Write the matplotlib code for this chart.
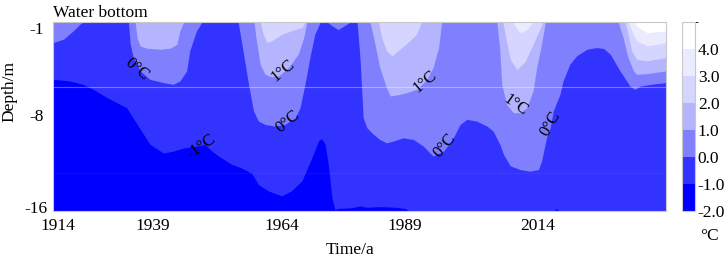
import matplotlib
matplotlib.use("Agg")
import matplotlib.pyplot as plt
from matplotlib.colors import ListedColormap, BoundaryNorm
from matplotlib.cm import ScalarMappable

plt.rcParams['font.family'] = ['Liberation Serif', 'DejaVu Serif']
plt.rcParams['font.size'] = 12.5

# temperature levels and band colours (coldest first)
levels = [-2, -1, 0, 1, 2, 3, 4, 5]
band_colors = ['#0000ff', '#3333ff', '#8080ff', '#b4b4ff', '#d5d5ff', '#ebebff', '#ffffff']
cbar_ticks = [-2, -1, 0, 1, 2, 3, 4]
cbar_labels = ['-2.0', '-1.0', '0.0', '1.0', '2.0', '3.0', '4.0']

# time axis (position along record, 0-100) and its labels
time_pos = [0.8, 16.2, 37.4, 57.4, 79.0]
time_labels = ['1914', '1939', '1964', '1989', '2014']
depth_pos = [-1.44, -8.36, -15.68]
depth_labels = ['-1', '-8', '-16']

# isotherm depths (m) read along the record
iso_m1_x = [0, 2.8, 4.9, 6.6, 8.8, 10.4, 12.0, 13.7, 15.8, 18.0, 19.6, 21.3, 23.4, 24.8, 25.9,
            27.5, 29.2, 30.8, 32.4, 33.5, 35.1, 37.3, 38.9, 40.6, 42.2, 43.3, 43.8, 44.4, 44.9,
            45.5, 46.0, 46.5, 48.5, 50.1, 51.2, 53.3, 55.8, 57.4, 58.2, 81.6, 82.2, 82.5, 100]
iso_m1_d = [-5.55, -5.68, -5.95, -6.35, -7.0, -7.4, -7.8, -9.1, -10.7, -11.4, -11.25, -11.0,
            -10.85, -10.72, -11.25, -11.8, -12.3, -12.6, -13.0, -13.9, -14.4, -14.8, -14.4,
            -13.6, -11.8, -10.45, -10.25, -10.7, -12.3, -14.95, -15.9, -15.8, -15.75, -15.6,
            -15.7, -15.65, -15.7, -15.8, -16, -16, -15.8, -16, -16]

iso_0_x = [0, 1.7, 3.3, 4.4, 4.9, 12.3, 12.6, 13.1, 14.2, 15.8, 18.0, 19.6, 20.7, 21.8, 22.3,
           23.4, 24.3, 30.2, 31.0, 31.9, 32.7, 33.5, 34.6, 36.2, 37.8, 39.5, 40.3, 41.1, 41.9,
           42.7, 43.6, 44.7, 45.7, 46.5, 47.3, 48.5, 49.6, 50.1, 50.6, 51.2, 52.3, 53.3, 54.4,
           55.5, 57.1, 58.8, 60.4, 62.0, 63.7, 65.3, 66.4, 67.5, 69.1, 70.8, 71.8, 72.9, 73.5,
           74.6, 76.2, 77.8, 79.2, 79.7, 80.5, 81.1, 81.6, 82.7, 83.2, 84.3, 85.4, 87.1, 88.7,
           89.8, 90.9, 92.5, 94.1, 94.9, 95.8, 97.4, 100]
iso_0_d = [-2.63, -2.37, -1.7, -1.17, -1, -1, -2.77, -3.82, -4.88, -5.55, -5.81, -5.95, -5.68,
           -4.88, -3.29, -1.7, -1, -1, -3.29, -5.95, -8.06, -8.86, -9.13, -9.26, -9.13, -8.6,
           -7.8, -5.95, -3.82, -1.97, -1, -1, -1.36, -1.6, -1.36, -1, -1, -3.98, -8.6, -9.39,
           -9.93, -10.32, -10.59, -10.45, -10.19, -10.32, -10.85, -11.64, -11.25, -10.19, -9.13,
           -8.73, -8.86, -9.26, -9.66, -10.72, -11.52, -12.42, -12.71, -12.84, -12.71, -12.04,
           -10.19, -9.39, -8.06, -6.74, -5.68, -4.36, -3.69, -3.16, -3.03, -3.1, -3.56, -4.88,
           -6.08, -6.35, -6.08, -5.95, -5.81]

iso_1_x = [0, 13.4, 13.7, 14.2, 15.3, 17.5, 19.1, 20.2, 20.7, 21.3, 32.8, 33.1, 33.8, 34.6,
           35.7, 36.8, 38.4, 40.0, 40.9, 41.4, 51.7, 52.3, 53.3, 54.4, 55.0, 56.1, 57.7, 59.3,
           61.0, 62.0, 62.9, 63.4, 72.4, 72.9, 73.2, 74.0, 75.1, 76.2, 77.3, 78.3, 78.9, 79.7,
           80.3, 92.2, 93.0, 93.8, 94.7, 95.2, 96.9, 100]
iso_1_d = [-1, -1, -2.23, -2.89, -3.08, -3.16, -3.08, -2.77, -1.7, -1, -1, -2.23, -4.36, -5.15,
           -5.36, -5.28, -4.62, -3.56, -2.23, -1, -1, -2.23, -4.62, -6.21, -6.87, -6.79, -6.61,
           -6.35, -5.55, -4.62, -3.03, -1, -1, -3.29, -5.95, -7.54, -8.2, -8.2, -7.8, -6.47,
           -4.62, -2.77, -1, -1, -2.23, -3.82, -4.88, -5.15, -5.1, -4.88]

iso_2_x = [0, 33.8, 34.3, 34.9, 35.7, 37.3, 38.9, 40.6, 41.1, 53.1, 53.6, 54.4, 55.3, 56.6,
           58.2, 59.3, 60.1, 73.4, 73.9, 74.6, 75.7, 77.0, 78.3, 79.4, 79.9, 93.3, 93.8, 94.4,
           95.2, 96.9, 100]
iso_2_d = [-1, -1, -1.97, -2.63, -2.5, -1.97, -1.7, -1.44, -1, -1, -2.23, -3.29, -3.69, -3.16,
           -2.5, -1.97, -1, -1, -2.39, -3.98, -4.78, -4.14, -2.79, -1.6, -1, -1, -1.97, -3.29,
           -3.96, -4.09, -3.82]

iso_3_x = [0, 75.0, 75.5, 76.2, 77.3, 78.3, 93.8, 94.4, 95.2, 96.9, 98.5, 100]
iso_3_d = [-1, -1, -1.44, -1.84, -1.6, -1, -1, -1.7, -2.5, -2.89, -2.77, -2.63]

iso_4_x = [0, 94.7, 95.5, 96.9, 100]
iso_4_d = [-1, -1, -1.44, -1.84, -1.7]

# contour labels
lab_text = ['0°C', '-1°C', '1°C', '0°C', '1°C', '0°C', '1°C', '0°C']
lab_x = [13.7, 24.1, 37.5, 38.3, 60.7, 63.9, 75.4, 81.2]
lab_d = [-4.78, -10.9, -4.86, -8.92, -5.73, -10.83, -7.64, -9.07]
lab_rot = [-40, 35, 40, 40, 40, 50, -35, 60]

W, H = 726, 259
fig = plt.figure(figsize=(W / 100, H / 100), dpi=100)
ax = fig.add_axes([53 / W, 1 - 211 / H, 613 / W, 189 / H])
cax = fig.add_axes([682 / W, 1 - 211 / H, 13 / W, 189 / H])

ax.set_facecolor(band_colors[0])
isotherms = [(iso_m1_x, iso_m1_d), (iso_0_x, iso_0_d), (iso_1_x, iso_1_d),
             (iso_2_x, iso_2_d), (iso_3_x, iso_3_d), (iso_4_x, iso_4_d)]
for i, (xs, ds) in enumerate(isotherms):
    ax.fill_between(xs, ds, -1, color=band_colors[i + 1], lw=0)

# faint gridding seams seen in the original
ax.axhline(-6.13, color='white', alpha=0.35, lw=0.8)
ax.axhline(-12.97, color='white', alpha=0.05, lw=0.8)

for t, x, d, r in zip(lab_text, lab_x, lab_d, lab_rot):
    ax.text(x, d, t, rotation=r, ha='center', va='center', rotation_mode='anchor', fontsize=12)

ax.set_xlim(0, 100)
ax.set_ylim(-16, -1)
ax.set_xticks(time_pos)
ax.set_xticklabels(time_labels)
ax.set_yticks(depth_pos)
ax.set_yticklabels(depth_labels)
for lbl in ax.get_yticklabels():
    lbl.set_horizontalalignment('center')
ax.tick_params(axis='x', length=0, pad=5)
ax.tick_params(axis='y', length=0, pad=12)
for s in ax.spines.values():
    s.set_color('#c8c8c8')
    s.set_linewidth(0.8)

fig.text(9 / W, 1 - 92 / H, 'Depth/m', rotation=90, ha='center', va='center')
fig.text(350 / W, 1 - 250 / H, 'Time/a', ha='center', va='center')
fig.text(53 / W, 1 - 17 / H, 'Water bottom', ha='left', va='baseline')

cmap = ListedColormap(band_colors)
norm = BoundaryNorm(levels, cmap.N)
cb = fig.colorbar(ScalarMappable(norm=norm, cmap=cmap), cax=cax, ticks=cbar_ticks)
cb.ax.set_yticklabels(cbar_labels)
cb.ax.tick_params(length=0, pad=2)
cb.outline.set_edgecolor('#c8c8c8')
cb.outline.set_linewidth(0.8)
fig.text(709 / W, 1 - 236 / H, '°C', ha='center', va='center')

fig.savefig('out.png', dpi=100)
